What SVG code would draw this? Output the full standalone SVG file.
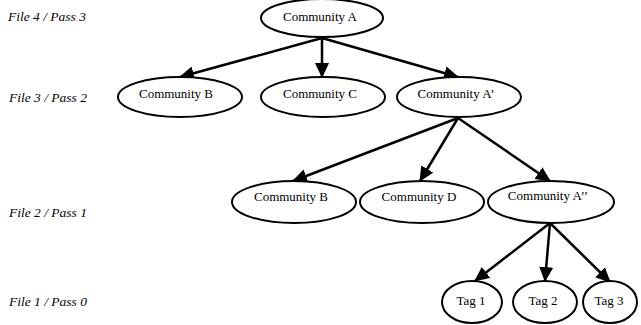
<svg xmlns="http://www.w3.org/2000/svg" width="641" height="325" viewBox="0 0 641 325">
<defs>
<marker id="ah" markerWidth="6" markerHeight="5.6" refX="5.6" refY="2.8" orient="auto" markerUnits="strokeWidth">
<path d="M0,0 L6,2.8 L0,5.6 z" fill="#000"/>
</marker>
<style>
.n ellipse{fill:#fff;stroke:#000;stroke-width:2}
.n text{font-family:'Liberation Serif','DejaVu Serif',serif;font-size:13px;text-anchor:middle;fill:#000}
.lbl{font-family:'Liberation Serif','DejaVu Serif',serif;font-size:13.5px;font-style:italic;fill:#000}
.e line{stroke:#000;stroke-width:2.5;marker-end:url(#ah)}
</style>
</defs>
<rect width="641" height="325" fill="#fff"/>
<g id="labels">
<text class="lbl" x="8" y="21">File 4 / Pass 3</text>
<text class="lbl" x="9" y="102">File 3 / Pass 2</text>
<text class="lbl" x="9" y="217">File 2 / Pass 1</text>
<text class="lbl" x="9" y="306">File 1 / Pass 0</text>
</g>
<g id="edges" class="e">
<line x1="322" y1="38" x2="180" y2="77"/>
<line x1="322" y1="38" x2="322" y2="77"/>
<line x1="322" y1="38" x2="458" y2="77"/>
<line x1="458" y1="118" x2="293" y2="181"/>
<line x1="458" y1="118" x2="420" y2="181"/>
<line x1="458" y1="118" x2="550" y2="181"/>
<line x1="550" y1="223" x2="475" y2="281"/>
<line x1="550" y1="223" x2="545" y2="281"/>
<line x1="550" y1="223" x2="610" y2="282"/>
</g>
<g id="nA" class="n"><ellipse cx="322" cy="18" rx="61" ry="19"/><text x="320" y="21">Community A</text></g>
<g id="nB1" class="n"><ellipse cx="180" cy="97" rx="62" ry="20"/><text x="176" y="98">Community B</text></g>
<g id="nC" class="n"><ellipse cx="323" cy="97" rx="62" ry="20"/><text x="320" y="98">Community C</text></g>
<g id="nA1" class="n"><ellipse cx="459" cy="97" rx="62" ry="20"/><text x="456" y="98">Community A’</text></g>
<g id="nB2" class="n"><ellipse cx="294" cy="202" rx="62" ry="21"/><text x="291" y="201">Community B</text></g>
<g id="nD" class="n"><ellipse cx="422" cy="202" rx="62" ry="21"/><text x="419" y="201">Community D</text></g>
<g id="nA2" class="n"><ellipse cx="551" cy="202" rx="63" ry="21"/><text x="548" y="200">Community A’’</text></g>
<g id="nT1" class="n"><ellipse cx="472" cy="302" rx="30" ry="21"/><text x="471" y="305">Tag 1</text></g>
<g id="nT2" class="n"><ellipse cx="545" cy="302" rx="32" ry="21"/><text x="543" y="305">Tag 2</text></g>
<g id="nT3" class="n"><ellipse cx="610" cy="302" rx="27" ry="21"/><text x="609" y="305">Tag 3</text></g>
</svg>
